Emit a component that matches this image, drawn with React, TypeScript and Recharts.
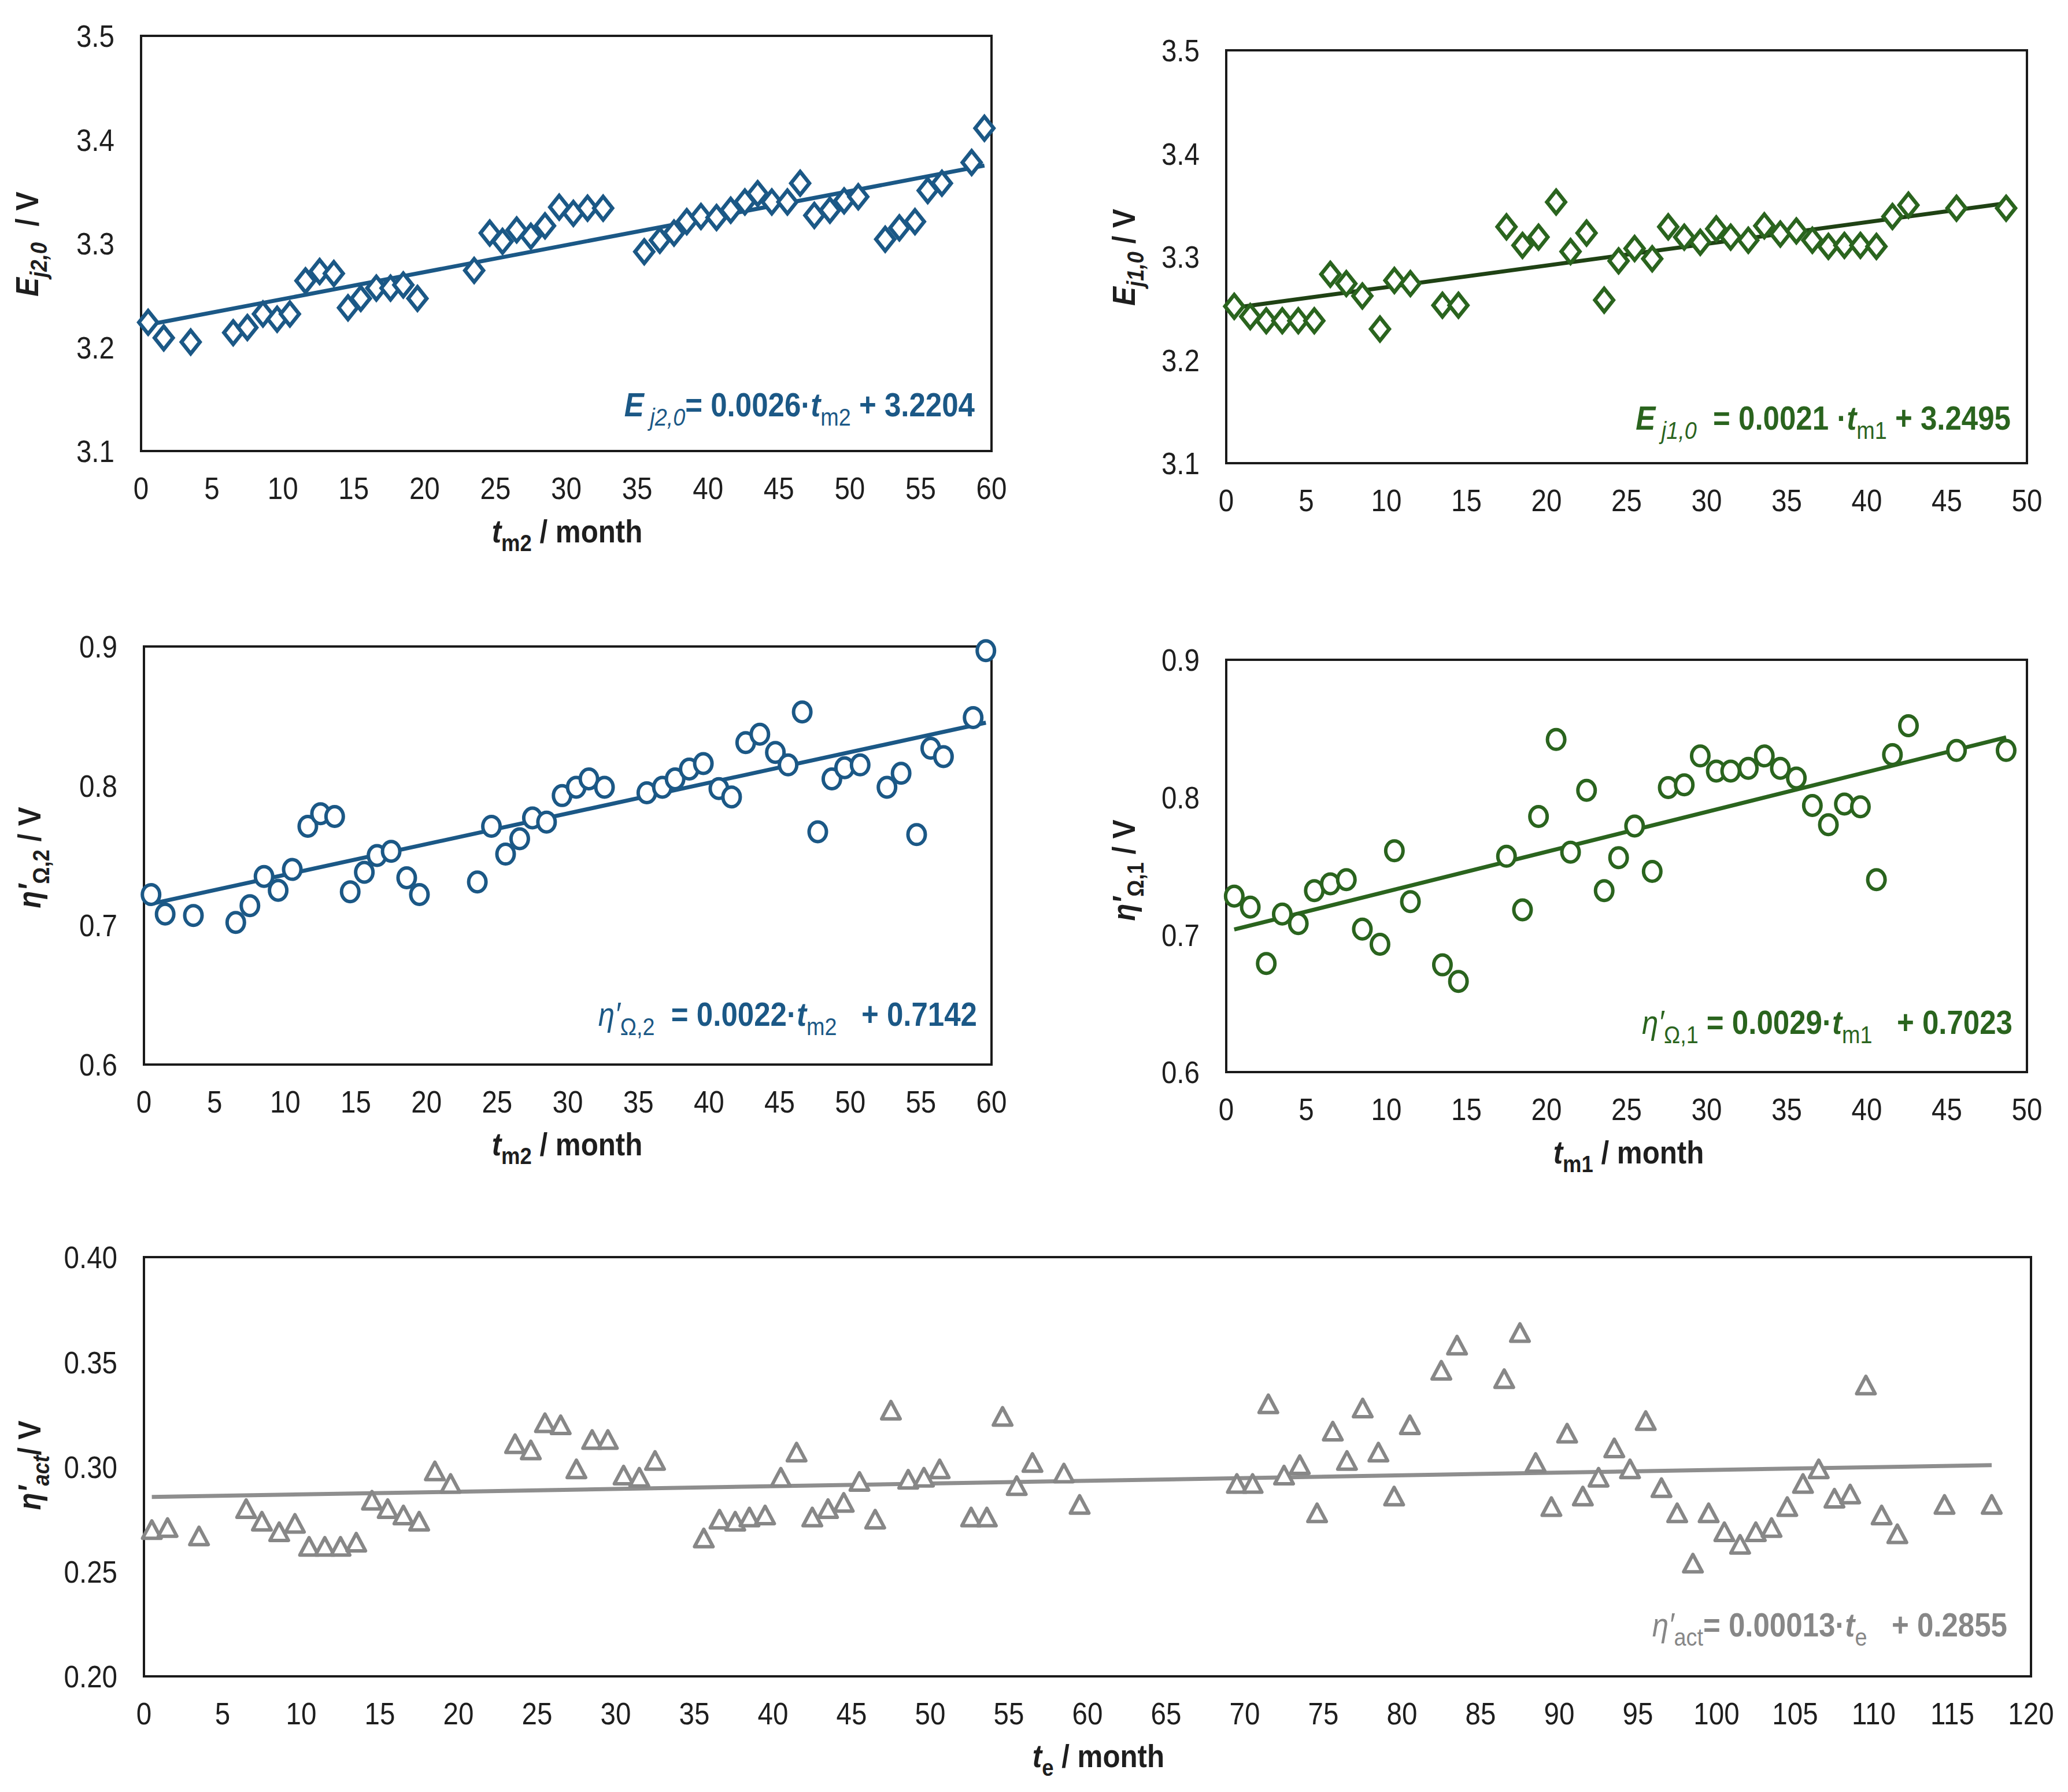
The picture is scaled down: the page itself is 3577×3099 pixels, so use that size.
import React from 'react';
import { ScatterChart, Scatter, XAxis, YAxis, ReferenceLine, ReferenceArea } from 'recharts';

const FONT = '"Liberation Sans", Arial, sans-serif';
const BLUE = '#1B5886';
const GREEN = '#2A641E';
const GREEN_DARK = '#1F4214';
const GREY = '#878787';
const INK = '#1e1e1e';

// E_j2,0 vs t_m2
const ej2Months = [0.5, 1.6, 3.5, 6.5, 7.5, 8.6, 9.6, 10.5, 11.6, 12.6, 13.6, 14.6, 15.5, 16.6, 17.6, 18.5, 19.5, 23.5, 24.6, 25.5, 26.5, 27.5, 28.5, 29.5, 30.5, 31.5, 32.6, 35.5, 36.6, 37.6, 38.5, 39.5, 40.6, 41.6, 42.6, 43.5, 44.5, 45.6, 46.5, 47.5, 48.6, 49.6, 50.6, 52.5, 53.5, 54.6, 55.5, 56.5, 58.6, 59.5];
const ej2Values = [3.224, 3.209, 3.205, 3.214, 3.219, 3.232, 3.227, 3.232, 3.264, 3.273, 3.271, 3.238, 3.247, 3.257, 3.257, 3.26, 3.247, 3.274, 3.31, 3.302, 3.313, 3.307, 3.317, 3.335, 3.329, 3.334, 3.334, 3.292, 3.303, 3.31, 3.321, 3.326, 3.325, 3.332, 3.34, 3.348, 3.34, 3.34, 3.358, 3.327, 3.332, 3.341, 3.345, 3.304, 3.315, 3.321, 3.351, 3.358, 3.378, 3.411];

// E_j1,0 and eta'_Ohm,1 vs t_m1
const m1Months = [0.5, 1.5, 2.5, 3.5, 4.5, 5.5, 6.5, 7.5, 8.5, 9.6, 10.5, 11.5, 13.5, 14.5, 17.5, 18.5, 19.5, 20.6, 21.5, 22.5, 23.6, 24.5, 25.5, 26.6, 27.6, 28.6, 29.6, 30.6, 31.5, 32.6, 33.6, 34.6, 35.6, 36.6, 37.6, 38.6, 39.6, 40.6, 41.6, 42.6, 45.6, 48.7];
const ej1Values = [3.252, 3.242, 3.238, 3.238, 3.238, 3.238, 3.283, 3.274, 3.262, 3.23, 3.277, 3.274, 3.253, 3.253, 3.329, 3.311, 3.319, 3.353, 3.305, 3.323, 3.258, 3.296, 3.308, 3.298, 3.329, 3.319, 3.314, 3.327, 3.319, 3.316, 3.33, 3.322, 3.325, 3.316, 3.31, 3.311, 3.311, 3.31, 3.339, 3.35, 3.347, 3.347];
const ohm1Values = [0.728, 0.72, 0.679, 0.715, 0.708, 0.732, 0.737, 0.74, 0.704, 0.693, 0.761, 0.724, 0.678, 0.666, 0.757, 0.718, 0.786, 0.842, 0.76, 0.805, 0.732, 0.756, 0.779, 0.746, 0.807, 0.809, 0.83, 0.819, 0.819, 0.821, 0.83, 0.821, 0.814, 0.794, 0.78, 0.795, 0.793, 0.74, 0.831, 0.852, 0.834, 0.834];

// eta'_Ohm,2 vs t_m2
const ohm2Months = [0.5, 1.5, 3.5, 6.5, 7.5, 8.5, 9.5, 10.5, 11.6, 12.5, 13.5, 14.6, 15.6, 16.5, 17.5, 18.6, 19.5, 23.6, 24.6, 25.6, 26.6, 27.5, 28.5, 29.6, 30.6, 31.5, 32.6, 35.6, 36.7, 37.6, 38.6, 39.6, 40.7, 41.6, 42.6, 43.6, 44.7, 45.6, 46.6, 47.7, 48.7, 49.6, 50.7, 52.6, 53.6, 54.7, 55.7, 56.6, 58.7, 59.6];
const ohm2Values = [0.722, 0.708, 0.707, 0.702, 0.714, 0.735, 0.725, 0.74, 0.771, 0.78, 0.778, 0.724, 0.738, 0.75, 0.753, 0.734, 0.722, 0.731, 0.771, 0.751, 0.762, 0.777, 0.774, 0.793, 0.799, 0.805, 0.799, 0.795, 0.799, 0.805, 0.812, 0.816, 0.798, 0.792, 0.831, 0.837, 0.824, 0.815, 0.853, 0.767, 0.805, 0.813, 0.815, 0.799, 0.809, 0.765, 0.827, 0.821, 0.849, 0.897];

// eta'_act vs t_e
const actMonths = [0.5, 1.5, 3.5, 6.5, 7.5, 8.6, 9.6, 10.5, 11.5, 12.5, 13.5, 14.5, 15.5, 16.5, 17.5, 18.5, 19.5, 23.6, 24.6, 25.5, 26.5, 27.5, 28.5, 29.5, 30.5, 31.5, 32.5, 35.6, 36.6, 37.6, 38.5, 39.5, 40.5, 41.5, 42.5, 43.5, 44.5, 45.5, 46.5, 47.5, 48.6, 49.6, 50.6, 52.6, 53.6, 54.6, 55.5, 56.5, 58.5, 59.5, 69.5, 70.5, 71.5, 72.5, 73.5, 74.6, 75.6, 76.5, 77.5, 78.5, 79.5, 80.5, 82.5, 83.5, 86.5, 87.5, 88.5, 89.5, 90.5, 91.5, 92.5, 93.5, 94.5, 95.5, 96.5, 97.5, 98.5, 99.5, 100.5, 101.5, 102.5, 103.5, 104.5, 105.5, 106.5, 107.5, 108.5, 109.5, 110.5, 111.5, 114.5, 117.5];
const actValues = [0.27, 0.271, 0.267, 0.28, 0.274, 0.269, 0.273, 0.262, 0.262, 0.262, 0.264, 0.284, 0.28, 0.277, 0.274, 0.298, 0.292, 0.311, 0.308, 0.321, 0.32, 0.299, 0.313, 0.313, 0.296, 0.295, 0.303, 0.266, 0.275, 0.274, 0.276, 0.277, 0.295, 0.307, 0.276, 0.28, 0.283, 0.293, 0.275, 0.327, 0.294, 0.295, 0.299, 0.276, 0.276, 0.324, 0.291, 0.302, 0.297, 0.282, 0.292, 0.292, 0.33, 0.296, 0.301, 0.278, 0.317, 0.303, 0.328, 0.307, 0.286, 0.32, 0.346, 0.358, 0.342, 0.364, 0.302, 0.281, 0.316, 0.286, 0.295, 0.309, 0.299, 0.322, 0.29, 0.278, 0.254, 0.278, 0.269, 0.263, 0.269, 0.271, 0.281, 0.292, 0.299, 0.285, 0.287, 0.339, 0.277, 0.268, 0.282, 0.282];

// axis ticks
const ticks60 = [0, 5, 10, 15, 20, 25, 30, 35, 40, 45, 50, 55, 60];
const ticks50 = [0, 5, 10, 15, 20, 25, 30, 35, 40, 45, 50];
const ticks120 = [0, 5, 10, 15, 20, 25, 30, 35, 40, 45, 50, 55, 60, 65, 70, 75, 80, 85, 90, 95, 100, 105, 110, 115, 120];
const ticksE = [3.1, 3.2, 3.3, 3.4, 3.5];
const ticksOhm = [0.6, 0.7, 0.8, 0.9];
const ticksAct = [0.2, 0.25, 0.3, 0.35, 0.4];

// fitted trend lines as printed on the chart: slope, intercept
const fitEj2 = [0.0026, 3.2204];
const fitEj1 = [0.0021, 3.2495];
const fitOhm2 = [0.0022, 0.7142];
const fitOhm1 = [0.0029, 0.7023];
const fitAct = [0.00013, 0.2855];

// the source figure uses a horizontally squeezed Arial
const SQUEEZE = 0.88;

type Part = { t: string; i?: boolean; s?: boolean; n?: boolean };

function Rich({ x, y, parts, size, color, anchor = 'start', rotate = false }: {
  x: number; y: number; parts: Part[]; size: number; color: string; anchor?: string; rotate?: boolean;
}) {
  const shift = size * 0.27;
  let prevSub = false;
  const tf = `translate(${x} ${y})${rotate ? ' rotate(-90)' : ''} scale(${SQUEEZE} 1)`;
  return (
    <text
      x={0}
      y={0}
      fontSize={size}
      fontWeight="bold"
      fontFamily={FONT}
      fill={color}
      textAnchor={anchor}
      style={{ whiteSpace: 'pre' }}
      transform={tf}
    >
      {parts.map((p, k) => {
        let dy = 0;
        if (p.s && !prevSub) dy = shift;
        if (!p.s && prevSub) dy = -shift;
        prevSub = !!p.s;
        return (
          <tspan
            key={k}
            dy={dy || undefined}
            fontStyle={p.i ? 'italic' : 'normal'}
            fontWeight={p.n ? 'normal' : 'bold'}
            fontSize={p.s ? size * 0.74 : size}
          >
            {p.t}
          </tspan>
        );
      })}
    </text>
  );
}

const makeTick = (axis: 'x' | 'y', digits: number) => (props: any) => {
  const { x, y, payload } = props;
  const label = axis === 'y' ? Number(payload.value).toFixed(digits) : String(payload.value);
  return (
    <text
      transform={`translate(${x} ${y}) scale(${SQUEEZE} 1)`}
      textAnchor={axis === 'y' ? 'end' : 'middle'}
      dy={axis === 'y' ? '0.36em' : '0.72em'}
      fontSize={54}
      fontFamily={FONT}
      fill={INK}
    >
      {label}
    </text>
  );
};

const diamond = (color: string) => (props: any) => {
  const { cx, cy } = props;
  const w = 16, h = 20;
  return <path d={`M${cx},${cy - h}L${cx + w},${cy}L${cx},${cy + h}L${cx - w},${cy}Z`} fill="#fff" stroke={color} strokeWidth={6.5} />;
};
const circle = (color: string) => (props: any) => (
  <ellipse cx={props.cx} cy={props.cy} rx={15} ry={17} fill="#fff" stroke={color} strokeWidth={6} />
);
const triangle = (color: string) => (props: any) => {
  const { cx, cy } = props;
  const w = 16, h = 15;
  return <path d={`M${cx},${cy - h}L${cx + w},${cy + h}L${cx - w},${cy + h}Z`} fill="#fff" stroke={color} strokeWidth={6} strokeLinejoin="round" />;
};

type PanelProps = {
  left: number; top: number; width: number; height: number;
  marginTop: number; marginRight: number; yWidth: number; xHeight: number;
  xTicks: number[]; yTicks: number[]; yDigits: number;
  months: number[]; values: number[]; fit: number[];
  shape: (p: any) => React.ReactElement; lineColor: string;
  yTitle: React.ReactNode; xTitle?: React.ReactNode; equation: React.ReactNode;
};

function Panel(p: PanelProps) {
  const data = p.months.map((m, i) => ({ x: m, y: p.values[i] }));
  const x0 = p.months[0];
  const x1 = p.months[p.months.length - 1];
  const xMax = p.xTicks[p.xTicks.length - 1];
  const yMin = p.yTicks[0];
  const yMax = p.yTicks[p.yTicks.length - 1];
  return (
    <div style={{ position: 'absolute', left: p.left, top: p.top }}>
      <ScatterChart width={p.width} height={p.height} margin={{ top: p.marginTop, right: p.marginRight, bottom: 0, left: 0 }}>
        <XAxis
          type="number"
          dataKey="x"
          domain={[0, xMax]}
          ticks={p.xTicks}
          interval={0}
          height={p.xHeight}
          axisLine={false}
          tickLine={false}
          tickSize={0}
          tickMargin={44}
          tick={makeTick('x', 0)}
        />
        <YAxis
          type="number"
          dataKey="y"
          domain={[yMin, yMax]}
          ticks={p.yTicks}
          interval={0}
          width={p.yWidth}
          axisLine={false}
          tickLine={false}
          tickSize={0}
          tickMargin={46}
          tick={makeTick('y', p.yDigits)}
        />
        <ReferenceArea x1={0} x2={xMax} y1={yMin} y2={yMax} fill="none" fillOpacity={0} stroke="#1a1a1a" strokeWidth={4} />
        <Scatter data={data} shape={p.shape} isAnimationActive={false} />
        <ReferenceLine
          segment={[{ x: x0, y: p.fit[0] * x0 + p.fit[1] }, { x: x1, y: p.fit[0] * x1 + p.fit[1] }]}
          stroke={p.lineColor}
          strokeWidth={7}
        />
        {p.yTitle}
        {p.xTitle}
        {p.equation}
      </ScatterChart>
    </div>
  );
}

export default function App() {
  return (
    <div style={{ position: 'relative', width: 3577, height: 3099, background: '#fff', overflow: 'hidden' }}>
      <style>{'body{margin:0}'}</style>
      <Panel
        left={0} top={0} width={1755} height={980} marginTop={62} marginRight={40} yWidth={244} xHeight={200}
        xTicks={ticks60} yTicks={ticksE} yDigits={1}
        months={ej2Months} values={ej2Values} fit={fitEj2}
        shape={diamond(BLUE)} lineColor={BLUE}
        yTitle={<Rich x={66} y={422} size={56} color={INK} anchor="middle" rotate parts={[{ t: 'E', i: true }, { t: 'j2,0', i: true, s: true }, { t: '  / V' }]} />}
        xTitle={<Rich x={981} y={938} size={56} color={INK} anchor="middle" parts={[{ t: 't', i: true }, { t: 'm2', s: true }, { t: ' / month' }]} />}
        equation={<Rich x={1686} y={720} size={58} color={BLUE} anchor="end" parts={[{ t: 'E', i: true }, { t: ' j2,0', i: true, s: true, n: true }, { t: '= 0.0026·' }, { t: 't', i: true }, { t: 'm2', s: true, n: true }, { t: ' + 3.2204' }]} />}
      />
      <Panel
        left={1800} top={0} width={1746} height={951} marginTop={87} marginRight={40} yWidth={321} xHeight={150}
        xTicks={ticks50} yTicks={ticksE} yDigits={1}
        months={m1Months} values={ej1Values} fit={fitEj1}
        shape={diamond(GREEN)} lineColor={GREEN_DARK}
        yTitle={<Rich x={163} y={445} size={56} color={INK} anchor="middle" rotate parts={[{ t: 'E', i: true }, { t: 'j1,0', i: true, s: true }, { t: ' / V' }]} />}
        equation={<Rich x={1678} y={743} size={58} color={GREEN} anchor="end" parts={[{ t: 'E', i: true }, { t: ' j1,0', i: true, s: true, n: true }, { t: '  = 0.0021 ·' }, { t: 't', i: true }, { t: 'm1', s: true, n: true }, { t: ' + 3.2495' }]} />}
      />
      <Panel
        left={0} top={1000} width={1755} height={1041} marginTop={118} marginRight={40} yWidth={249} xHeight={200}
        xTicks={ticks60} yTicks={ticksOhm} yDigits={1}
        months={ohm2Months} values={ohm2Values} fit={fitOhm2}
        shape={circle(BLUE)} lineColor={BLUE}
        yTitle={<Rich x={70} y={483} size={56} color={INK} anchor="middle" rotate parts={[{ t: 'η′', i: true }, { t: 'Ω,2', s: true }, { t: ' / V' }]} />}
        xTitle={<Rich x={981} y={998} size={56} color={INK} anchor="middle" parts={[{ t: 't', i: true }, { t: 'm2', s: true }, { t: ' / month' }]} />}
        equation={<Rich x={1690} y={774} size={58} color={BLUE} anchor="end" parts={[{ t: 'η′', i: true, n: true }, { t: 'Ω,2', s: true, n: true }, { t: '  = 0.0022·' }, { t: 't', i: true }, { t: 'm2', s: true, n: true }, { t: '   + 0.7142' }]} />}
      />
      <Panel
        left={1800} top={1000} width={1746} height={1054} marginTop={141} marginRight={40} yWidth={321} xHeight={200}
        xTicks={ticks50} yTicks={ticksOhm} yDigits={1}
        months={m1Months} values={ohm1Values} fit={fitOhm1}
        shape={circle(GREEN)} lineColor={GREEN}
        yTitle={<Rich x={163} y={505} size={56} color={INK} anchor="middle" rotate parts={[{ t: 'η′', i: true }, { t: 'Ω,1', s: true }, { t: ' / V' }]} />}
        xTitle={<Rich x={1017} y={1012} size={56} color={INK} anchor="middle" parts={[{ t: 't', i: true }, { t: 'm1', s: true }, { t: ' / month' }]} />}
        equation={<Rich x={1681} y={788} size={58} color={GREEN} anchor="end" parts={[{ t: 'η′', i: true, n: true }, { t: 'Ω,1', s: true, n: true }, { t: ' = 0.0029·' }, { t: 't', i: true }, { t: 'm1', s: true, n: true }, { t: '   + 0.7023' }]} />}
      />
      <Panel
        left={0} top={2080} width={3573} height={1019} marginTop={94} marginRight={60} yWidth={249} xHeight={200}
        xTicks={ticks120} yTicks={ticksAct} yDigits={2}
        months={actMonths} values={actValues} fit={fitAct}
        shape={triangle(GREY)} lineColor="#8E8E8E"
        yTitle={<Rich x={70} y={454} size={56} color={INK} anchor="middle" rotate parts={[{ t: 'η′', i: true }, { t: 'act', i: true, s: true }, { t: '/ V' }]} />}
        xTitle={<Rich x={1900} y={976} size={56} color={INK} anchor="middle" parts={[{ t: 't', i: true }, { t: 'e', s: true }, { t: ' / month' }]} />}
        equation={<Rich x={3472} y={750} size={58} color={GREY} anchor="end" parts={[{ t: 'η′', i: true, n: true }, { t: 'act', s: true, n: true }, { t: '= 0.00013·' }, { t: 't', i: true }, { t: 'e', s: true, n: true }, { t: '   + 0.2855' }]} />}
      />
    </div>
  );
}
